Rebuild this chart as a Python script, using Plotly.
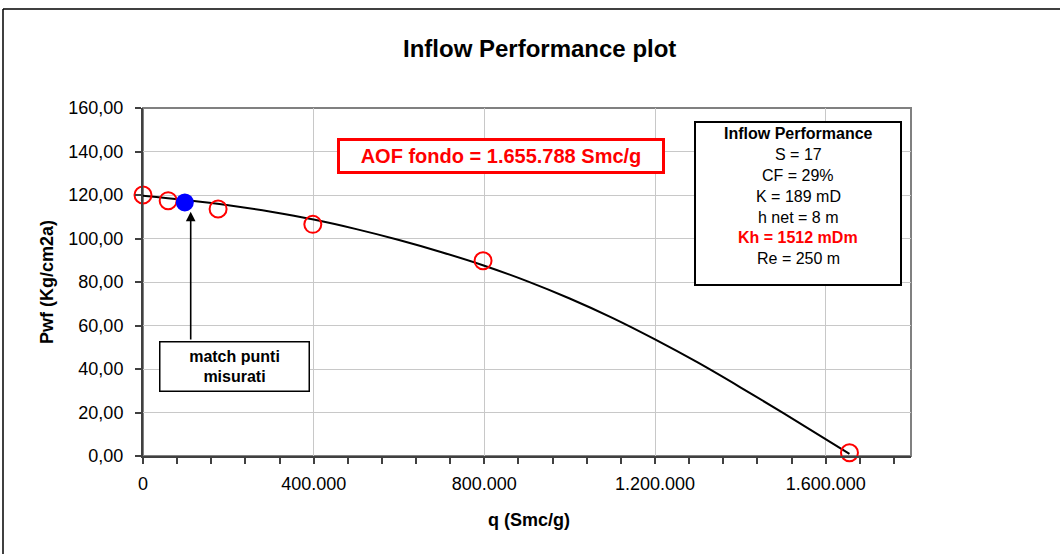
import plotly.graph_objects as go

# ---- data ----
meas_q = [0, 59000, 176000, 398000, 797000, 1655788]
meas_p = [120.0, 117.4, 113.6, 106.5, 89.8, 1.5]

match_q = [98000]
match_p = [116.6]

curve_q = [0, 100000, 200000, 300000, 400000, 500000, 600000, 700000, 800000, 900000,
           1000000, 1100000, 1200000, 1300000, 1400000, 1500000, 1655788]
curve_p = [119.7, 117.7, 115.3, 112.3, 108.7, 104.3, 99.3, 93.7, 87.5, 80.4,
           72.4, 63.5, 53.6, 43.0, 31.6, 19.8, 1.0]

x_tick_vals = [0, 400000, 800000, 1200000, 1600000]
x_tick_text = ["0", "400.000", "800.000", "1.200.000", "1.600.000"]
y_tick_vals = [0, 20, 40, 60, 80, 100, 120, 140, 160]
y_tick_text = ["0,00", "20,00", "40,00", "60,00", "80,00", "100,00", "120,00", "140,00", "160,00"]

info_lines = ["S = 17", "CF = 29%", "K = 189 mD", "h net = 8 m"]
info_red = "Kh = 1512 mDm"
info_last = "Re = 250 m"

# ---- layout geometry (pixels) ----
W, H = 1060, 554
PL, PR, PT, PB = 143, 911, 108, 456
FONT = "Liberation Sans, Arial, sans-serif"


def px(x):
    return (x - PL) / (PR - PL)


def py(y):
    return (PB - y) / (PB - PT)


fig = go.Figure()

fig.add_trace(go.Scatter(
    x=curve_q, y=curve_p, mode="lines",
    line=dict(color="black", width=2, shape="spline", smoothing=1.0),
    hoverinfo="skip", showlegend=False, cliponaxis=False))

fig.add_trace(go.Scatter(
    x=meas_q, y=meas_p, mode="markers",
    marker=dict(symbol="circle-open", size=17, color="#ff0000", line=dict(width=2, color="#ff0000")),
    showlegend=False, cliponaxis=False))

fig.add_trace(go.Scatter(
    x=match_q, y=match_p, mode="markers",
    marker=dict(symbol="circle", size=18, color="#0000ff", line=dict(width=0)),
    showlegend=False, cliponaxis=False))

shapes = []
# outer chart frame
shapes.append(dict(type="line", xref="paper", yref="paper",
                   x0=px(3), x1=px(1080), y0=py(9), y1=py(9),
                   line=dict(color="black", width=1.5)))
shapes.append(dict(type="line", xref="paper", yref="paper",
                   x0=px(3), x1=px(3), y0=py(9), y1=py(600),
                   line=dict(color="black", width=1.5)))
# plot area border
shapes.append(dict(type="rect", xref="paper", yref="paper",
                   x0=0, x1=1, y0=0, y1=1, layer="below",
                   line=dict(color="#808080", width=2)))
# info box
shapes.append(dict(type="rect", xref="paper", yref="paper",
                   x0=px(695), x1=px(901), y0=py(122), y1=py(285),
                   fillcolor="white", line=dict(color="black", width=2), layer="above"))

annotations = []
# title
annotations.append(dict(xref="paper", yref="paper", x=px(539), y=py(48),
                        text="<b>Inflow Performance plot</b>", showarrow=False,
                        font=dict(family=FONT, size=24, color="black"),
                        xanchor="center", yanchor="middle"))
# axis titles
annotations.append(dict(xref="paper", yref="paper", x=px(529), y=py(520),
                        text="<b>q (Smc/g)</b>", showarrow=False,
                        font=dict(family=FONT, size=18, color="black"),
                        xanchor="center", yanchor="middle"))
annotations.append(dict(xref="paper", yref="paper", x=px(47), y=py(282),
                        text="<b>Pwf (Kg/cm2a)</b>", showarrow=False, textangle=-90,
                        font=dict(family=FONT, size=18, color="black"),
                        xanchor="center", yanchor="middle"))
# AOF box
annotations.append(dict(xref="paper", yref="paper", x=px(501), y=py(156),
                        text="<b>AOF fondo = 1.655.788 Smc/g</b>", showarrow=False,
                        font=dict(family=FONT, size=20, color="#ff0000"),
                        bordercolor="#ff0000", borderwidth=3, borderpad=3,
                        bgcolor="white", width=316, height=24,
                        xanchor="center", yanchor="middle"))
# arrow
annotations.append(dict(x=111800, y=112.3, xref="x", yref="y",
                        ax=111800, ay=52.9, axref="x", ayref="y",
                        text="", showarrow=True, arrowhead=2, arrowsize=1.2,
                        arrowwidth=1.6, arrowcolor="black"))
# match box
annotations.append(dict(xref="paper", yref="paper", x=px(234), y=py(366.5),
                        text="<b>match punti<br>misurati</b>", showarrow=False,
                        font=dict(family=FONT, size=16, color="black"),
                        bordercolor="black", borderwidth=1.5, borderpad=1,
                        bgcolor="white", width=146, height=46,
                        xanchor="center", yanchor="middle"))
# info box text
cx = px(798)
annotations.append(dict(xref="paper", yref="paper", x=cx, y=py(133),
                        text="<b>Inflow Performance</b>", showarrow=False,
                        font=dict(family=FONT, size=16, color="black"),
                        xanchor="center", yanchor="middle"))
ys = [154, 175, 196, 217]
for t, yy in zip(info_lines, ys):
    annotations.append(dict(xref="paper", yref="paper", x=cx, y=py(yy),
                            text=t, showarrow=False,
                            font=dict(family=FONT, size=16, color="black"),
                            xanchor="center", yanchor="middle"))
annotations.append(dict(xref="paper", yref="paper", x=cx, y=py(237),
                        text="<b>" + info_red + "</b>", showarrow=False,
                        font=dict(family=FONT, size=16, color="#ff0000"),
                        xanchor="center", yanchor="middle"))
annotations.append(dict(xref="paper", yref="paper", x=cx, y=py(258),
                        text=info_last, showarrow=False,
                        font=dict(family=FONT, size=16, color="black"),
                        xanchor="center", yanchor="middle"))

fig.update_layout(
    width=W, height=H,
    margin=dict(l=PL, r=W - PR, t=PT, b=H - PB, pad=0),
    paper_bgcolor="white", plot_bgcolor="white",
    font=dict(family=FONT, size=18, color="black"),
    showlegend=False,
    shapes=shapes, annotations=annotations,
    xaxis=dict(range=[0, 1800000], tickvals=x_tick_vals, ticktext=x_tick_text,
               showgrid=True, gridcolor="#c8c8c8", gridwidth=1,
               zeroline=False, showline=True, linecolor="#404040", linewidth=2,
               ticks="outside", ticklen=6, tickcolor="#404040", tickwidth=1.5,
               ticklabelstandoff=4,
               minor=dict(dtick=80000, tick0=0, ticks="outside", ticklen=6,
                          tickcolor="#404040", tickwidth=1.5, showgrid=False),
               tickfont=dict(family=FONT, size=18, color="black"), fixedrange=True),
    yaxis=dict(range=[0, 160], tickvals=y_tick_vals, ticktext=y_tick_text,
               showgrid=True, gridcolor="#c8c8c8", gridwidth=1,
               zeroline=False, showline=True, linecolor="#404040", linewidth=2,
               ticks="outside", ticklen=6, tickcolor="#404040", tickwidth=1.5,
               ticklabelstandoff=8,
               tickfont=dict(family=FONT, size=18, color="black"), fixedrange=True),
)

fig.write_html("out.html")
